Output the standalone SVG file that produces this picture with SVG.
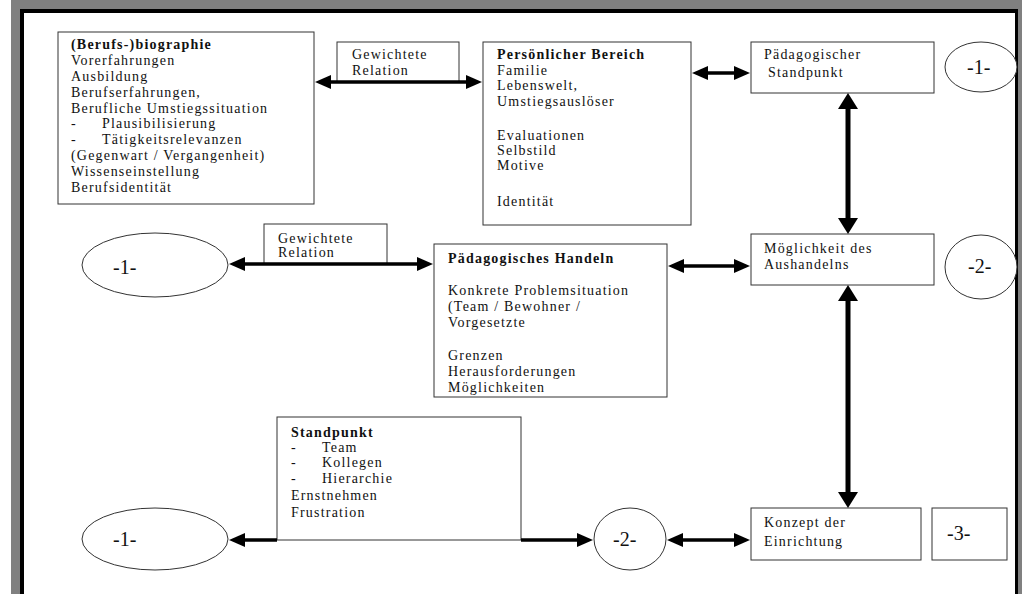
<svg xmlns="http://www.w3.org/2000/svg" width="1022" height="594" viewBox="0 0 1022 594">
<defs>
<style>
.box{fill:#fff;stroke:#333;stroke-width:1}
.ell{fill:#fff;stroke:#333;stroke-width:1}
.t{font-family:"Liberation Serif","Times New Roman",serif;font-size:14px;letter-spacing:1.2px;fill:#111}
.b{font-weight:bold}
.n{font-family:"Liberation Serif","Times New Roman",serif;font-size:20px;fill:#111}
.h{stroke:#000;stroke-width:3.5;fill:none;marker-start:url(#ah);marker-end:url(#ah)}
.hs{stroke:#000;stroke-width:3.5;fill:none;marker-end:url(#ah)}
.v{stroke:#000;stroke-width:5;fill:none;marker-start:url(#av);marker-end:url(#av)}
</style>
<marker id="ah" markerUnits="userSpaceOnUse" markerWidth="20" markerHeight="20" refX="0" refY="7" orient="auto-start-reverse" overflow="visible"><path d="M-1,0 L15,7 L-1,14 z" fill="#000"/></marker>
<marker id="av" markerUnits="userSpaceOnUse" markerWidth="20" markerHeight="24" refX="0" refY="10" orient="auto-start-reverse" overflow="visible"><path d="M-1,0 L15,10 L-1,20 z" fill="#000"/></marker>
<clipPath id="clipH"><rect x="434" y="244" width="233" height="151"/></clipPath>
</defs>
<rect x="0" y="0" width="1022" height="594" fill="#fff"/>
<rect x="11" y="0" width="1011" height="594" fill="#808080"/>
<rect x="20" y="9" width="998" height="600" fill="#000"/>
<rect x="24" y="13" width="991" height="600" fill="#fff"/>

<g id="biographie">
<rect class="box" x="58" y="32" width="256" height="172"/>
<text class="t"><tspan class="b" x="71" y="49">(Berufs-)biographie</tspan><tspan x="71" y="65">Vorerfahrungen</tspan><tspan x="71" y="81">Ausbildung</tspan><tspan x="71" y="97">Berufserfahrungen,</tspan><tspan x="71" y="113">Berufliche Umstiegssituation</tspan><tspan x="71" y="128">-</tspan><tspan x="102" y="128">Plausibilisierung</tspan><tspan x="71" y="144">-</tspan><tspan x="102" y="144">Tätigkeitsrelevanzen</tspan><tspan x="71" y="160">(Gegenwart / Vergangenheit)</tspan><tspan x="71" y="176">Wissenseinstellung</tspan><tspan x="71" y="192">Berufsidentität</tspan></text>
</g>

<g id="gewichtete1">
<rect class="box" x="337" y="42" width="122" height="40"/>
<text class="t"><tspan x="352" y="59">Gewichtete</tspan><tspan x="352" y="75">Relation</tspan></text>
</g>

<g id="persoenlich">
<rect class="box" x="483" y="42" width="208" height="183"/>
<text class="t"><tspan class="b" x="497" y="59">Persönlicher Bereich</tspan><tspan x="497" y="75">Familie</tspan><tspan x="497" y="90">Lebenswelt,</tspan><tspan x="497" y="106">Umstiegsauslöser</tspan><tspan x="497" y="140">Evaluationen</tspan><tspan x="497" y="155">Selbstild</tspan><tspan x="497" y="170">Motive</tspan><tspan x="497" y="206">Identität</tspan></text>
</g>

<g id="paedstandpunkt">
<rect class="box" x="751" y="42" width="183" height="51"/>
<text class="t"><tspan x="764" y="59">Pädagogischer</tspan><tspan x="768" y="77">Standpunkt</tspan></text>
</g>

<g id="e1top">
<ellipse class="ell" cx="981" cy="67" rx="36" ry="25"/>
<text class="n" x="967" y="74">-1-</text>
</g>

<g id="e1mid">
<ellipse class="ell" cx="155" cy="265" rx="73" ry="32"/>
<text class="n" x="113" y="274">-1-</text>
</g>

<g id="gewichtete2">
<rect class="box" x="264" y="224" width="123" height="40"/>
<text class="t"><tspan x="278" y="243">Gewichtete</tspan><tspan x="278" y="257">Relation</tspan></text>
</g>

<g id="handeln">
<rect class="box" x="434" y="244" width="233" height="153"/>
<text class="t" clip-path="url(#clipH)"><tspan class="b" x="448" y="263">Pädagogisches Handeln</tspan><tspan x="448" y="295">Konkrete Problemsituation</tspan><tspan x="448" y="311">(Team / Bewohner /</tspan><tspan x="448" y="327">Vorgesetzte</tspan><tspan x="448" y="360">Grenzen</tspan><tspan x="448" y="376">Herausforderungen</tspan><tspan x="448" y="392">Möglichkeiten</tspan></text>
</g>

<g id="moeglichkeit">
<rect class="box" x="751" y="234" width="183" height="51"/>
<text class="t"><tspan x="764" y="253">Möglichkeit des</tspan><tspan x="764" y="269">Aushandelns</tspan></text>
</g>

<g id="e2right">
<ellipse class="ell" cx="981" cy="267" rx="36" ry="32"/>
<text class="n" x="968" y="273">-2-</text>
</g>

<g id="standpunkt">
<rect class="box" x="277" y="417" width="244" height="123"/>
<text class="t"><tspan class="b" x="291" y="437">Standpunkt</tspan><tspan x="291" y="452">-</tspan><tspan x="322" y="452">Team</tspan><tspan x="291" y="467">-</tspan><tspan x="322" y="467">Kollegen</tspan><tspan x="291" y="483">-</tspan><tspan x="322" y="483">Hierarchie</tspan><tspan x="291" y="500">Ernstnehmen</tspan><tspan x="291" y="517">Frustration</tspan></text>
</g>

<g id="e1bottom">
<ellipse class="ell" cx="155" cy="539" rx="73" ry="31"/>
<text class="n" x="113" y="546">-1-</text>
</g>

<g id="e2bottom">
<ellipse class="ell" cx="630" cy="539" rx="36" ry="31"/>
<text class="n" x="613" y="546">-2-</text>
</g>

<g id="konzept">
<rect class="box" x="751" y="508" width="170" height="52"/>
<text class="t"><tspan x="764" y="527">Konzept der</tspan><tspan x="764" y="546">Einrichtung</tspan></text>
</g>

<g id="n3">
<rect class="box" x="932" y="508" width="75" height="52"/>
<text class="n" x="947" y="540">-3-</text>
</g>

<g id="connectors">
<line class="h" x1="330" y1="82" x2="467" y2="82"/>
<line class="h" x1="707" y1="73" x2="735" y2="73"/>
<line class="h" x1="244" y1="264" x2="418" y2="264"/>
<line class="h" x1="683" y1="266" x2="735" y2="266"/>
<line class="hs" x1="277" y1="540" x2="244" y2="540"/>
<line class="hs" x1="521" y1="540" x2="578" y2="540"/>
<line class="h" x1="682" y1="540" x2="735" y2="540"/>
<line class="v" x1="848" y1="108" x2="848" y2="219"/>
<line class="v" x1="848" y1="300" x2="848" y2="493"/>
</g>
</svg>
